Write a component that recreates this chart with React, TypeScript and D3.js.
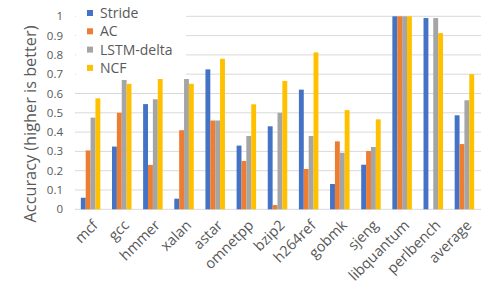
import React from "react";
import * as d3 from "d3";

const categories = ["mcf","gcc","hmmer","xalan","astar","omnetpp","bzip2","h264ref","gobmk","sjeng","libquantum","perlbench","average"];
const seriesNames = ["Stride","AC","LSTM-delta","NCF"];
const stride = [0.06,0.325,0.545,0.055,0.725,0.33,0.43,0.62,0.131,0.231,1.0,0.991,0.487];
const ac = [0.305,0.5,0.23,0.41,0.46,0.25,0.022,0.209,0.352,0.302,1.0,0,0.338];
const lstm = [0.475,0.67,0.57,0.675,0.46,0.38,0.5,0.38,0.293,0.323,1.0,0.991,0.565];
const ncf = [0.575,0.65,0.675,0.65,0.78,0.544,0.665,0.813,0.514,0.466,1.0,0.913,0.70];
const colors = ["#4472C4","#ED7D31","#A5A5A5","#FFC000"];
const yTicks = [0,0.1,0.2,0.3,0.4,0.5,0.6,0.7,0.8,0.9,1];

export default function App() {
  const W = 495, H = 297;
  const series = [stride, ac, lstm, ncf];
  const x = d3.scaleBand().domain(categories).range([75, 480]).padding(0);
  const inner = d3.scaleBand().domain(seriesNames).range([0, 19.5]).padding(0);
  const y = d3.scaleLinear().domain([0, 1]).range([209.3, 16.3]);
  const font = "'Open Sans', sans-serif";
  const txt = "#595959";
  return (
    <svg width={W} height={H} style={{ position: "absolute", left: 0, top: 0 }}>
      <rect width={W} height={H} fill="#fff" />
      {yTicks.map((t) => (
        <g key={t}>
          <line x1={75} x2={481} y1={y(t)} y2={y(t)} stroke="#d9d9d9" strokeWidth={1} />
          <text x={63} y={y(t)} dy="0.35em" textAnchor="end" fontSize={11.5} fontFamily={font} fill={txt}>
            {d3.format("")(t)}
          </text>
        </g>
      ))}
      {categories.map((c, i) => {
        const x0 = (x(c) as number) + (x.bandwidth() - 19.5) / 2;
        return (
          <g key={c}>
            {series.map((s, k) => (
              <rect key={k} x={x0 + (inner(seriesNames[k]) as number)} width={inner.bandwidth()}
                y={y(s[i])} height={y(0) - y(s[i])} fill={colors[k]} />
            ))}
          </g>
        );
      })}
      {categories.map((c) => {
        const cx = (x(c) as number) + x.bandwidth() / 2;
        return (
          <text key={c} transform={`translate(${cx + 1},${219}) rotate(-45)`} textAnchor="end" dy="0.7em"
            fontSize={14.5} fontFamily={font} fill={txt}>{c}</text>
        );
      })}
      <rect x={76} y={4} width={110} height={74} fill="#fff" />
      {seriesNames.map((n, k) => (
        <g key={n} transform={`translate(87,${13 + k * 18.3})`}>
          <rect x={0} y={-3} width={6} height={6} fill={colors[k]} />
          <text x={13} y={0} dy="0.35em" fontSize={14} fontFamily={font} fill={txt}>{n}</text>
        </g>
      ))}
      <text transform={`translate(30,124) rotate(-90)`} textAnchor="middle" dy="0.35em" fontSize={16.3} fontFamily={font} fill={txt}>
        Accuracy (higher is better)
      </text>
    </svg>
  );
}
